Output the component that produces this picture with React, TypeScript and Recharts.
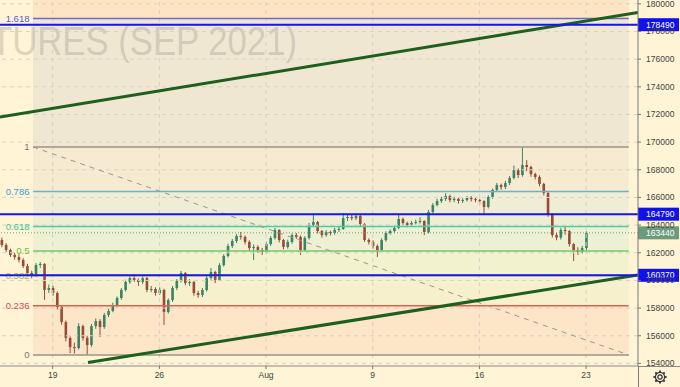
import React from 'react';
import { ComposedChart, Bar, XAxis, YAxis, ReferenceLine, ReferenceArea } from 'recharts';

// ---- data ----
const firstOpen = 162920;
const closes = [
  162560, 162200, 161840, 161690, 161480, 161040, 160540, 160320, 161110, 161190,
  159310, 159450, 159090, 158080, 156990, 155840, 155180, 155110, 156700, 155840,
  155330, 156700, 157060, 156630, 157500, 157790, 158220, 158730, 159310, 159890,
  160170, 160030, 159890, 160170, 159310, 159380, 159090, 159310, 157720, 158580,
  159450, 159960, 160540, 159810, 159890, 159090, 158950, 159310, 160170, 160610,
  160030, 161110, 161770, 162490, 162850, 163210, 163150, 162780, 162340, 162420,
  162200, 162050, 162630, 163070, 163650, 162920, 162420, 162780, 163280, 163150,
  162200, 163070, 164010, 164220, 163570, 163280, 163500, 163430, 163650, 163720,
  164510, 164590, 164500, 164660, 164080, 162920, 162780, 162490, 162200, 162920,
  163430, 163570, 163790, 164440, 164150, 164010, 164150, 164220, 164300, 163500,
  164950, 165450, 165740, 165890, 166100, 165810, 165900, 165740, 165810, 165960,
  165880, 165810, 165740, 165310, 166030, 166540, 166900, 166750, 167040, 167410,
  167980, 167620, 168350, 168200, 167690, 167480, 166970, 166320, 164730, 163280,
  163100, 163650, 163570, 162630, 162200, 162050, 162340, 163440,
];
const highs = [
  163100, 162700, 162300, 162000, 161900, 161600, 161200, 160700, 161250, 161330,
  161250, 159700, 159600, 159200, 158200, 157100, 155950, 155500, 156900, 156800,
  156000, 156850, 157250, 157200, 157650, 157950, 158400, 158850, 159450, 160050,
  160300, 160460, 160150, 160300, 160250, 159600, 159500, 159500, 159400, 158700,
  159600, 160100, 160680, 160600, 160100, 159950, 159250, 159450, 160300, 160900,
  160700, 161250, 161900, 162650, 163000, 163350, 163500, 163250, 162900, 162600,
  162550, 162350, 162800, 163200, 163790, 163700, 163000, 162950, 163400, 163430,
  163250, 163200, 164150, 164730, 164300, 163650, 163650, 163600, 163800, 163900,
  164870, 164750, 164800, 164800, 164750, 164150, 163050, 162900, 162600, 163050,
  163550, 163700, 163950, 164730, 164550, 164250, 164300, 164400, 164580, 164350,
  165100, 165600, 165900, 166050, 166300, 166200, 166050, 166000, 165950, 166100,
  166100, 166000, 165900, 165800, 166150, 166650, 167050, 167000, 167200, 167550,
  168300, 168100, 169650, 168700, 168300, 167800, 167600, 167050, 166400, 164850,
  163450, 163800, 163900, 163650, 162700, 162400, 162500, 163550,
];
const lows = [
  162400, 162050, 161700, 161500, 161300, 160900, 160400, 160150, 160250, 160900,
  158600, 159100, 158900, 157900, 156800, 155600, 154750, 154720, 155000, 155650,
  154610, 155200, 156500, 155910, 156500, 157350, 157700, 158100, 158600, 159200,
  159750, 159900, 159600, 159750, 159150, 159150, 158900, 158950, 156780, 157600,
  158450, 159300, 159850, 159650, 159600, 158900, 158750, 158800, 159200, 160050,
  159810, 159950, 161000, 161650, 162350, 162700, 162950, 162600, 162150, 161480,
  162000, 161850, 161950, 162500, 162950, 162750, 162250, 162300, 162650, 163000,
  161840, 162100, 162950, 163900, 163400, 163100, 163150, 163250, 163300, 163500,
  163650, 164300, 164350, 164350, 163900, 162800, 162600, 162300, 161690, 162100,
  162800, 163300, 163450, 163700, 164000, 163850, 163900, 164050, 164100, 163280,
  163400, 164850, 165350, 165600, 165750, 165650, 165650, 165550, 165600, 165700,
  165700, 165650, 165500, 164730, 165200, 165900, 166400, 166550, 166600, 166900,
  167300, 167400, 167500, 167900, 167500, 167300, 166800, 166150, 164600, 163100,
  162900, 162950, 163300, 162450, 161400, 161850, 161950, 162200,
];

const xTickIdx = [12, 37, 62, 87, 112, 137];
const xTickLabels = ['19', '26', 'Aug', '9', '16', '23'];
const yTicks = [154000, 156000, 158000, 160000, 162000, 164000, 166000, 168000, 170000, 172000, 174000, 176000, 178000, 180000];

const hLevels = [178490, 164790, 160370];
const lastPrice = 163440;

const fibLow = 154610;
const fibHigh = 169650;
const fibRatios = [0, 0.236, 0.382, 0.5, 0.618, 0.786, 1, 1.618];
const fibLabels = ['0', '0.236', '0.382', '0.5', '0.618', '0.786', '1', '1.618'];
const fibStartIdx = 7.38;
const fibEndIdx = 147.0;

const upperTrend = [{ x: -0.35, y: 171816 }, { x: 149.17, y: 179372 }];
const lowerTrend = [{ x: 20.27, y: 154064 }, { x: 149.17, y: 160390 }];

const xDomain: [number, number] = [-0.35, 149.17];
const yDomain: [number, number] = [153812, 180276];

// ---- styles ----
const BG = '#fff4d6';
const fibLineColors = ['#9a948a', '#e0604e', '#9cc040', '#6fcf5a', '#40d3a0', '#66b2d2', '#9a948a', '#6a6ad2'];
const fibTextColors = ['#777777', '#e04a4a', '#9cbf2a', '#5dc641', '#2ec797', '#3d9cd4', '#777777', '#5a5ad6'];
// zone i lies between level i and level i+1; last zone is above 1.618
const zoneColors = ['#fde5c8', '#f7f0cc', '#f3f2cf', '#eef0d3', '#f0edd5', '#f6ead0', '#f0e7d3', '#fde5c3'];
const UP = '#3a8466';
const DOWN = '#984a38';
const FONT = '"Liberation Sans", Arial, sans-serif';

const data = closes.map((c, i) => ({
  idx: i,
  open: i === 0 ? firstOpen : closes[i - 1],
  close: c,
  high: highs[i],
  low: lows[i],
}));

const fibLevels = fibRatios.map((r) => fibLow + (fibHigh - fibLow) * r);

const Candle = (props: any) => {
  const { x, y, width, height } = props;
  const p = props.payload ?? props;
  const { open, close, high, low } = p;
  if (x == null || y == null) return null;
  const top = Math.min(y, y + height);
  const h = Math.abs(height);
  const range = high - low;
  const k = range > 0 ? h / range : 0;
  const cx = x + width / 2;
  const yO = top + (high - open) * k;
  const yC = top + (high - close) * k;
  const up = close >= open;
  const color = up ? UP : DOWN;
  const bTop = Math.min(yO, yC);
  const bH = Math.max(1, Math.abs(yO - yC));
  return (
    <g>
      <line x1={cx} x2={cx} y1={top} y2={top + h} stroke={color} strokeWidth={1} />
      <rect x={cx - 1.3} y={bTop} width={2.6} height={bH} fill={color} />
    </g>
  );
};

const makeTag = (text: string, bg: string) => (props: any) => {
  const vb = props.viewBox || {};
  const x0 = (vb.x || 0) + (vb.width || 0);
  const yy = vb.y || 0;
  return (
    <g>
      <rect x={x0} y={yy - 6.5} width={41} height={13} fill={bg} />
      <text x={x0 + 8} y={yy} dy="0.35em" fill="#ffffff" fontSize={8.5} fontFamily={FONT}>
        {text}
      </text>
    </g>
  );
};

const makeFibLabel = (text: string, color: string) => (props: any) => {
  const vb = props.viewBox || {};
  return (
    <text x={(vb.x || 0) - 3.5} y={vb.y || 0} dy="0.35em" textAnchor="end" fill={color} fontSize={9.5} fontFamily={FONT}>
      {text}
    </text>
  );
};

const Watermark = () => (
  <text
    x={-9}
    y={55}
    fontSize={41}
    textLength={306}
    lengthAdjust="spacingAndGlyphs"
    fill="#8c8578"
    fillOpacity={0.3}
    fontFamily={FONT}
  >
    TURES (SEP 2021)
  </text>
);

const Gear = () => (
  <svg width={16} height={16} viewBox="0 0 16 16" style={{ position: 'absolute', left: 652, top: 369 }}>
    <g stroke="#333" fill="none" strokeWidth={1.2}>
      <circle cx={8} cy={8} r={2.2} />
      <circle cx={8} cy={8} r={4.6} />
      {[0, 45, 90, 135, 180, 225, 270, 315].map((a) => {
        const r = (a * Math.PI) / 180;
        return (
          <line key={a} x1={8 + 4.6 * Math.cos(r)} y1={8 + 4.6 * Math.sin(r)} x2={8 + 6.6 * Math.cos(r)} y2={8 + 6.6 * Math.sin(r)} strokeWidth={1.8} />
        );
      })}
    </g>
  </svg>
);

export default function App() {
  return (
    <div style={{ position: 'absolute', left: 0, top: 0, width: 680, height: 387, background: BG, overflow: 'hidden', fontFamily: FONT }}>
      <ComposedChart width={680} height={387} data={data} margin={{ top: 0, right: 0, left: 0, bottom: 0 }}>
        <XAxis
          dataKey="idx"
          type="number"
          domain={xDomain}
          allowDataOverflow
          ticks={xTickIdx}
          interval={0}
          tickFormatter={(v: number) => xTickLabels[xTickIdx.indexOf(v)] ?? ''}
          height={21}
          tickSize={3}
          tickMargin={3}
          tick={{ fontSize: 8.5, fill: '#444', fontFamily: FONT }}
          tickLine={{ stroke: '#777' }}
          axisLine={{ stroke: '#8a8a8a' }}
        />
        <YAxis
          orientation="right"
          width={42}
          domain={yDomain}
          allowDataOverflow
          ticks={yTicks}
          interval={0}
          tickSize={3}
          tickMargin={5}
          tick={{ fontSize: 8.5, fill: '#444', fontFamily: FONT }}
          tickLine={{ stroke: '#777' }}
          axisLine={{ stroke: '#777' }}
        />

        {fibLevels.map((lvl, i) => (
          <ReferenceArea
            key={'z' + i}
            x1={fibStartIdx}
            x2={fibEndIdx}
            y1={lvl}
            y2={i + 1 < fibLevels.length ? fibLevels[i + 1] : yDomain[1]}
            fill={zoneColors[i]}
            fillOpacity={1}
            stroke="none"
            ifOverflow="hidden"
          />
        ))}

        {yTicks.map((t) => (
          <ReferenceLine key={'gy' + t} y={t} stroke="#d8d1c3" strokeDasharray="4 4" ifOverflow="hidden" />
        ))}
        {xTickIdx.map((t) => (
          <ReferenceLine key={'gx' + t} x={t} stroke="#d8d1c3" strokeDasharray="4 4" ifOverflow="hidden" />
        ))}

        <ReferenceArea
          x1={xDomain[0]}
          x2={xDomain[1]}
          y1={yDomain[0]}
          y2={yDomain[1]}
          fill="none"
          fillOpacity={0}
          stroke="none"
          label={Watermark}
        />

        {fibLevels.map((lvl, i) => (
          <ReferenceLine
            key={'f' + i}
            segment={[{ x: fibStartIdx, y: lvl }, { x: fibEndIdx, y: lvl }]}
            stroke={fibLineColors[i]}
            strokeWidth={1.5}
            ifOverflow="hidden"
            label={makeFibLabel(fibLabels[i], fibTextColors[i])}
          />
        ))}

        <ReferenceLine
          segment={[{ x: fibStartIdx, y: fibLevels[6] }, { x: fibEndIdx, y: fibLevels[0] }]}
          stroke="#9a968f"
          strokeDasharray="5 5"
          ifOverflow="hidden"
        />

        <ReferenceLine segment={upperTrend} stroke="#1d5f1d" strokeWidth={3} ifOverflow="hidden" />
        <ReferenceLine segment={lowerTrend} stroke="#1d5f1d" strokeWidth={3} ifOverflow="hidden" />

        <Bar dataKey={(d: any) => [d.low, d.high]} barSize={3} shape={Candle} isAnimationActive={false} />

        {hLevels.map((lvl) => (
          <ReferenceLine key={'h' + lvl} y={lvl} stroke="#1414f5" strokeWidth={2} label={makeTag(String(lvl), '#1010f0')} />
        ))}

        <ReferenceLine y={lastPrice} stroke="#6f9f80" strokeDasharray="1 2" label={makeTag(String(lastPrice), '#6a9c7c')} />
      </ComposedChart>
      <div style={{ position: 'absolute', left: 638, top: 365.5, width: 42, height: 1, background: '#8a8a8a' }} />
      <div style={{ position: 'absolute', left: 637.5, top: 366, width: 1, height: 21, background: '#777' }} />
      <Gear />
    </div>
  );
}
